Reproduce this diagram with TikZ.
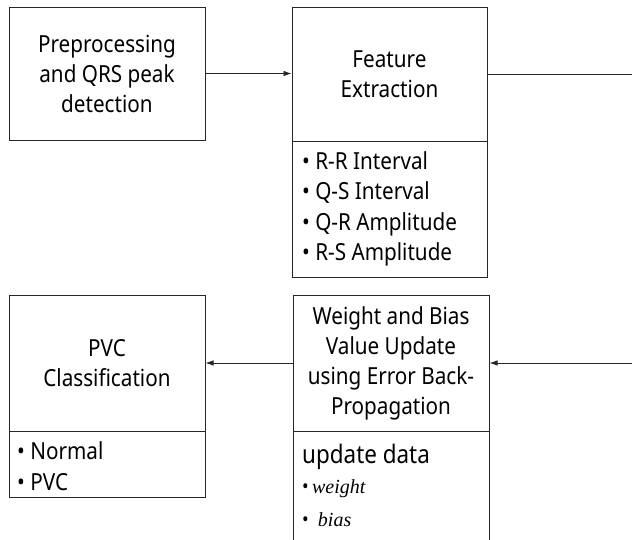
\documentclass[tikz,border=0pt]{standalone}
\usepackage{fontspec}
\setmainfont[FakeStretch=0.88]{Noto Sans}
\newfontfamily\varfont{Liberation Serif}
\usetikzlibrary{arrows.meta}
\begin{document}
\begin{tikzpicture}[x=1pt,y=-1pt,
  box/.style={draw=black!85, line width=1pt, rectangle, inner sep=0pt, font=\fontsize{23.5}{30}\selectfont, align=center},
  item/.style={font=\fontsize{23.5}{30.5}\selectfont, align=left, inner sep=0pt, anchor=west},
  small/.style={font=\fontsize{20}{22}\selectfont, inner sep=0pt, anchor=west},
  link/.style={draw=black!85, line width=0.8pt},
  flow/.style={link, -{Latex[length=8pt,width=5.5pt]}},
]
\clip (0,0) rectangle (632,539);

% upper row
\node[box, minimum width=196pt, minimum height=133pt] (pre) at (107,73.5)
  {Preprocessing\\and QRS peak\\detection};
\node[box, minimum width=195pt, minimum height=134pt] (feat) at (389.5,74)
  {Feature\\Extraction};
\node[box, minimum width=195pt, minimum height=136pt] (featlist) at (389.5,209) {};
\node[item] (feattext) at (302,209)
  {• R-R Interval\\• Q-S Interval\\• Q-R Amplitude\\• R-S Amplitude};

% lower row
\node[box, minimum width=196pt, minimum height=136pt] (pvc) at (107,363)
  {PVC\\Classification};
\node[box, minimum width=196pt, minimum height=66pt] (pvclist) at (107,464) {};
\node[item] (pvctext) at (17,466) {• Normal\\• PVC};

\node[box, minimum width=196pt, minimum height=136pt] (wb) at (391,363)
  {Weight and Bias\\Value Update\\using Error Back-\\Propagation};
\node[box, minimum width=196pt, minimum height=140pt] (wblist) at (391,501) {};
\node[item, font=\fontsize{25.5}{28}\selectfont] (upd) at (302,457) {update data};
\node[small] (wgt) at (302,489) {•\,{\varfont\itshape weight}};
\node[small] (bia) at (302,520) {•\ \ {\varfont\itshape bias}};

% connectors
\coordinate (edge) at (632,0);
\draw[flow] (pre.east) -- (pre.east -| feat.west);
\draw[link] (feat.east) -- (feat.east -| edge);
\draw[flow] (wb.east -| edge) -- (wb.east);
\draw[flow] (wb.west) -- (wb.west -| pvc.east);
\end{tikzpicture}
\end{document}
